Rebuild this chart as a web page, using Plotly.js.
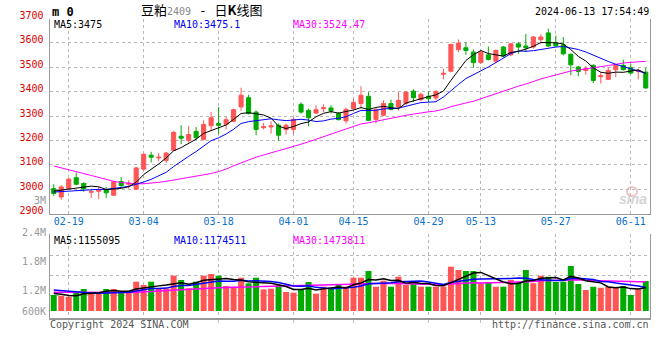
<!DOCTYPE html>
<html><head><meta charset="utf-8">
<script src="https://cdn.plot.ly/plotly-3.0.1.min.js"></script>
<style>html,body{margin:0;padding:0;background:#fff}#chart{width:660px;height:360px}</style>
</head><body><div id="chart"></div>
<script>
// ---- data ----
const dates = ['02-07','02-08','02-19','02-20','02-21','02-22','02-23','02-26','02-27','02-28','02-29',
 '03-01','03-04','03-05','03-06','03-07','03-08','03-11','03-12','03-13','03-14','03-15','03-18','03-19','03-20','03-21','03-22','03-25','03-26','03-27','03-28','03-29',
 '04-01','04-02','04-03','04-08','04-09','04-10','04-11','04-12','04-15','04-16','04-17','04-18','04-19','04-22','04-23','04-24','04-25','04-26','04-29','04-30',
 '05-06','05-07','05-08','05-09','05-10','05-13','05-14','05-15','05-16','05-17','05-20','05-21','05-22','05-23','05-24','05-27','05-28','05-29','05-30','05-31',
 '06-03','06-04','06-05','06-06','06-07','06-11','06-12','06-13'];
const openP = [3002,2968,3002,3047,3023,2987,2991,2998,2975,3031,3020,3000,3082,3139,3128,3118,3159,3217,3200,3237,
 3204,3260,3269,3266,3278,3337,3375,3316,3252,3255,3262,3244,3245,3348,3323,3312,3330,3333,3310,3280,
 3330,3351,3381,3286,3303,3351,3337,3351,3402,3367,3381,3374,3471,3484,3572,3580,3562,3519,3551,3525,
 3583,3551,3596,3587,3583,3613,3641,3600,3592,3553,3501,3487,3508,3461,3450,3490,3508,3498,3482,3480];
const highP = [3020,3016,3046,3068,3028,3001,3009,3009,3034,3050,3037,3091,3146,3153,3148,3153,3239,3262,3259,3255,
 3282,3316,3337,3296,3330,3416,3387,3323,3271,3278,3269,3269,3293,3356,3330,3344,3348,3344,3316,3334,
 3371,3422,3398,3333,3364,3367,3398,3401,3409,3396,3402,3405,3494,3596,3614,3603,3573,3566,3585,3573,
 3587,3600,3603,3637,3628,3635,3658,3630,3624,3558,3505,3504,3512,3480,3501,3514,3531,3514,3494,3498];
const lowP = [2972,2957,3000,3016,2989,2964,2959,2964,2972,3009,3002,2996,3077,3109,3114,3107,3157,3184,3191,3203,
 3200,3239,3225,3245,3275,3321,3306,3221,3245,3228,3198,3224,3225,3310,3258,3307,3316,3310,3282,3269,
 3326,3330,3280,3269,3299,3323,3323,3346,3357,3361,3357,3364,3450,3480,3562,3551,3498,3514,3528,3518,
 3542,3546,3555,3562,3576,3596,3583,3583,3549,3467,3463,3469,3435,3433,3450,3460,3487,3471,3450,3412];
const closeP = [2982,3009,3041,3020,3001,2990,2996,2985,3030,3015,3024,3087,3143,3131,3131,3148,3233,3209,3224,3211,
 3265,3293,3262,3285,3326,3385,3310,3245,3256,3259,3221,3262,3286,3316,3293,3326,3334,3321,3285,3327,
 3355,3385,3282,3326,3351,3327,3364,3398,3375,3389,3371,3401,3475,3594,3599,3569,3519,3562,3532,3569,
 3546,3596,3583,3580,3624,3624,3587,3587,3555,3510,3483,3494,3446,3465,3487,3508,3490,3476,3486,3415];
const volume = [796000,763000,713000,913000,1095000,913000,913000,1095000,1095000,913000,
 913000,1460000,1294000,1460000,1128000,1128000,1759000,1543000,1128000,1460000,
 1759000,1842000,1759000,1244000,1211000,1659000,1377000,1659000,1078000,1112000,
 1294000,946000,913000,1078000,1443000,863000,1211000,1161000,1294000,1211000,
 1659000,1659000,1991000,1211000,1510000,1211000,1709000,1294000,1443000,1211000,
 1211000,1211000,1211000,2207000,2041000,1991000,1991000,1377000,1443000,1211000,
 1211000,1543000,1443000,2041000,1377000,1759000,1709000,1443000,1460000,2240000,
 1344000,1045000,1211000,1161000,1211000,1161000,1244000,796000,1078000,1493000];
// moving-average values at the start of the window (history before 02-07 is not shown)
const ma5Head = [2992,2996,3002,3007];
const ma10Head = [2988,2990,2993,2995,2996,2998,2999,2999,3002];
const ma30Head = [3095,3088,3080,3072,3064,3056,3047,3039,3032,3027,3024,3022,3022,3024,3028,3032,3037,3041,3046,3052,
 3058,3064,3072,3082,3096,3108,3122,3131,3140];
const volMa5Head = [870000,840000,770000,760000];
const volMa10Head = [1045000,1010000,975000,945000,920000,900000,890000,890000,900000];
const volMa30Head = [930000,925000,920000,915000,912000,910000,910000,912000,915000,918000,922000,930000,946000,970000,
 995000,1020000,1045000,1070000,1095000,1112000,1128000,1145000,1161000,1170000,1178000,1186000,1195000,1203000,1211000];
const dateTicks = ['02-19','03-04','03-18','04-01','04-15','04-29','05-13','05-27','06-11'];
const priceTicks = [2900,3000,3100,3200,3300,3400,3500,3600,3700];
const priceTickText = ['2900','3000','3100','3200','3300','3400','3500','3600','3700'];
const volTickText = ['3M','2.4M','1.8M','1.2M','600K'];

// ---- helpers ----
function movingAvg(vals, n, head){
  return vals.map((v,i)=>{
    if(i < n-1) return head[i];
    let s=0; for(let k=i-n+1;k<=i;k++) s+=vals[k];
    return s/n;
  });
}
const W=660,H=360;
const px = x => x/W, py = y => 1 - y/H;
const RED='#ff5555', GREEN='#00aa00';
const mono='DejaVu Sans Mono, monospace';
const barColors = closeP.map((c,i)=> c >= openP[i] ? RED : GREEN);

const ma5 = movingAvg(closeP,5,ma5Head), ma10 = movingAvg(closeP,10,ma10Head), ma30 = movingAvg(closeP,30,ma30Head);
const vma5 = movingAvg(volume,5,volMa5Head), vma10 = movingAvg(volume,10,volMa10Head), vma30 = movingAvg(volume,30,volMa30Head);

const traces = [
  {type:'candlestick', x:dates, open:openP, high:highP, low:lowP, close:closeP, xaxis:'x', yaxis:'y',
   increasing:{line:{color:RED,width:1}, fillcolor:RED}, decreasing:{line:{color:GREEN,width:1}, fillcolor:GREEN},
   whiskerwidth:0, hoverinfo:'skip', showlegend:false},
  {type:'scatter', mode:'lines', x:dates, y:ma30, line:{color:'#ff00ff',width:1}, xaxis:'x', yaxis:'y', hoverinfo:'skip', showlegend:false},
  {type:'scatter', mode:'lines', x:dates, y:ma10, line:{color:'#0000ff',width:1}, xaxis:'x', yaxis:'y', hoverinfo:'skip', showlegend:false},
  {type:'scatter', mode:'lines', x:dates, y:ma5, line:{color:'#000000',width:1}, xaxis:'x', yaxis:'y', hoverinfo:'skip', showlegend:false},
  {type:'bar', x:dates, y:volume, marker:{color:barColors, line:{width:0}}, xaxis:'x2', yaxis:'y2', hoverinfo:'skip', showlegend:false},
  {type:'scatter', mode:'lines', x:dates, y:vma30, line:{color:'#ff00ff',width:1.5}, xaxis:'x2', yaxis:'y2', hoverinfo:'skip', showlegend:false},
  {type:'scatter', mode:'lines', x:dates, y:vma10, line:{color:'#0000ff',width:1.5}, xaxis:'x2', yaxis:'y2', hoverinfo:'skip', showlegend:false},
  {type:'scatter', mode:'lines', x:dates, y:vma5, line:{color:'#000000',width:1.5}, xaxis:'x2', yaxis:'y2', hoverinfo:'skip', showlegend:false}
];

const gridCol='#b8b8b8', lineCol='#999999';
const xDom=[px(50), px(649.5)];
const volLabelY = [200,232,261,290,311];
const titleHtml = '豆粕<span style="font-family:DejaVu Sans Mono;font-size:10px;color:#888">2409</span>'
  + '<span style="font-family:DejaVu Sans Mono">&nbsp;-&nbsp;</span>日<b>K</b>线图';
const annotations = [
    {text:'<b>m 0</b>', x:px(51), y:py(12), xanchor:'left', font:{family:mono,size:12,color:'#000'}},
    {text:titleHtml, x:px(202), y:py(9.5), xanchor:'center',
     font:{family:'Noto Sans CJK SC, sans-serif', size:13, color:'#000'}},
    {text:'2024-06-13 17:54:49', x:px(650), y:py(12), xanchor:'right'},
    {text:'MA5:3475', x:px(53), y:py(24.5), xanchor:'left'},
    {text:'MA10:3475.1', x:px(173), y:py(24.5), xanchor:'left', font:{family:mono,size:10,color:'#0000ee'}},
    {text:'MA30:3524.47', x:px(292), y:py(24.5), xanchor:'left', font:{family:mono,size:10,color:'#ff00ff'}},
    {text:'MA5:1155095', x:px(53), y:py(240), xanchor:'left'},
    {text:'MA10:1174511', x:px(173), y:py(240), xanchor:'left', font:{family:mono,size:10,color:'#0000ee'}},
    {text:'MA30:1473811', x:px(292), y:py(240), xanchor:'left', font:{family:mono,size:10,color:'#ff00ff'}},
    {text:'Copyright 2024 SINA.COM', x:px(49), y:py(324), xanchor:'left', font:{family:mono,size:10,color:'#555'}},
    {text:'http://finance.sina.com.cn', x:px(650), y:py(324), xanchor:'right', font:{family:mono,size:10,color:'#555'}},
    {text:'<b><i>sina</i></b>', x:px(648), y:py(199), xanchor:'right', font:{family:'Liberation Sans, sans-serif',size:14,color:'#d4d4d4'}}
].concat(volTickText.map((t,i)=>({text:t, x:px(47), y:py(volLabelY[i]), xanchor:'right', font:{family:mono,size:10,color:'#999'}})));
annotations.forEach(a=>{a.xref='paper';a.yref='paper';a.yanchor='middle';a.showarrow=false;a.borderpad=0;
  if(!a.font) a.font={family:mono, size:10, color:'#000'};});

const layout = {
  width:W, height:H, margin:{l:0,r:0,t:0,b:0}, paper_bgcolor:'#fff', plot_bgcolor:'rgba(0,0,0,0)',
  showlegend:false, boxgap:0.22, bargap:0.2,
  xaxis:{domain:xDom, anchor:'y', type:'category', range:[-0.5,79.5], rangeslider:{visible:false},
    tickvals:dateTicks, ticktext:dateTicks, showgrid:true, gridcolor:gridCol, griddash:'dot', gridwidth:1,
    showline:true, linecolor:lineCol, linewidth:1.5, mirror:false, ticks:'', ticklabelstandoff:-2,
    tickfont:{family:mono, size:10, color:'#0a70c8'}, fixedrange:true},
  yaxis:{domain:[py(213.5), py(18.5)], anchor:'x', range:[2900,3700], tickvals:priceTicks, ticktext:priceTickText,
    showgrid:true, gridcolor:gridCol, griddash:'dot', gridwidth:1, zeroline:false,
    showline:true, linecolor:lineCol, linewidth:1.5, mirror:true, ticks:'', ticklabelshift:-3, ticklabelstandoff:3,
    tickfont:{family:mono, size:10, color:'#dd0000'}, fixedrange:true},
  xaxis2:{domain:xDom, anchor:'y2', type:'category', range:[-0.5,79.5], matches:'x',
    tickvals:dateTicks, showticklabels:false, showgrid:true, gridcolor:gridCol, griddash:'dot', gridwidth:1,
    showline:true, linecolor:lineCol, linewidth:1.5, ticks:'outside', ticklen:3, tickcolor:'#c0c0c0', fixedrange:true},
  yaxis2:{domain:[py(318), py(234.3)], anchor:'x2', range:[-348000,3818000],
    tickvals:[761600,1757000,2753000,3818000], showticklabels:false, showgrid:true, gridcolor:gridCol, griddash:'dot', gridwidth:1,
    zeroline:false, showline:true, linecolor:lineCol, linewidth:1.5, mirror:true, ticks:'', fixedrange:true},
  annotations:annotations,
  shapes:[
    {type:'circle', xref:'paper', yref:'paper', x0:px(627), x1:px(637), y0:py(196), y1:py(187), line:{color:'#f2c4c4',width:2}, fillcolor:'rgba(0,0,0,0)', layer:'below'}
  ]
};
Plotly.newPlot('chart', traces, layout, {staticPlot:true, displayModeBar:false});
</script></body></html>
